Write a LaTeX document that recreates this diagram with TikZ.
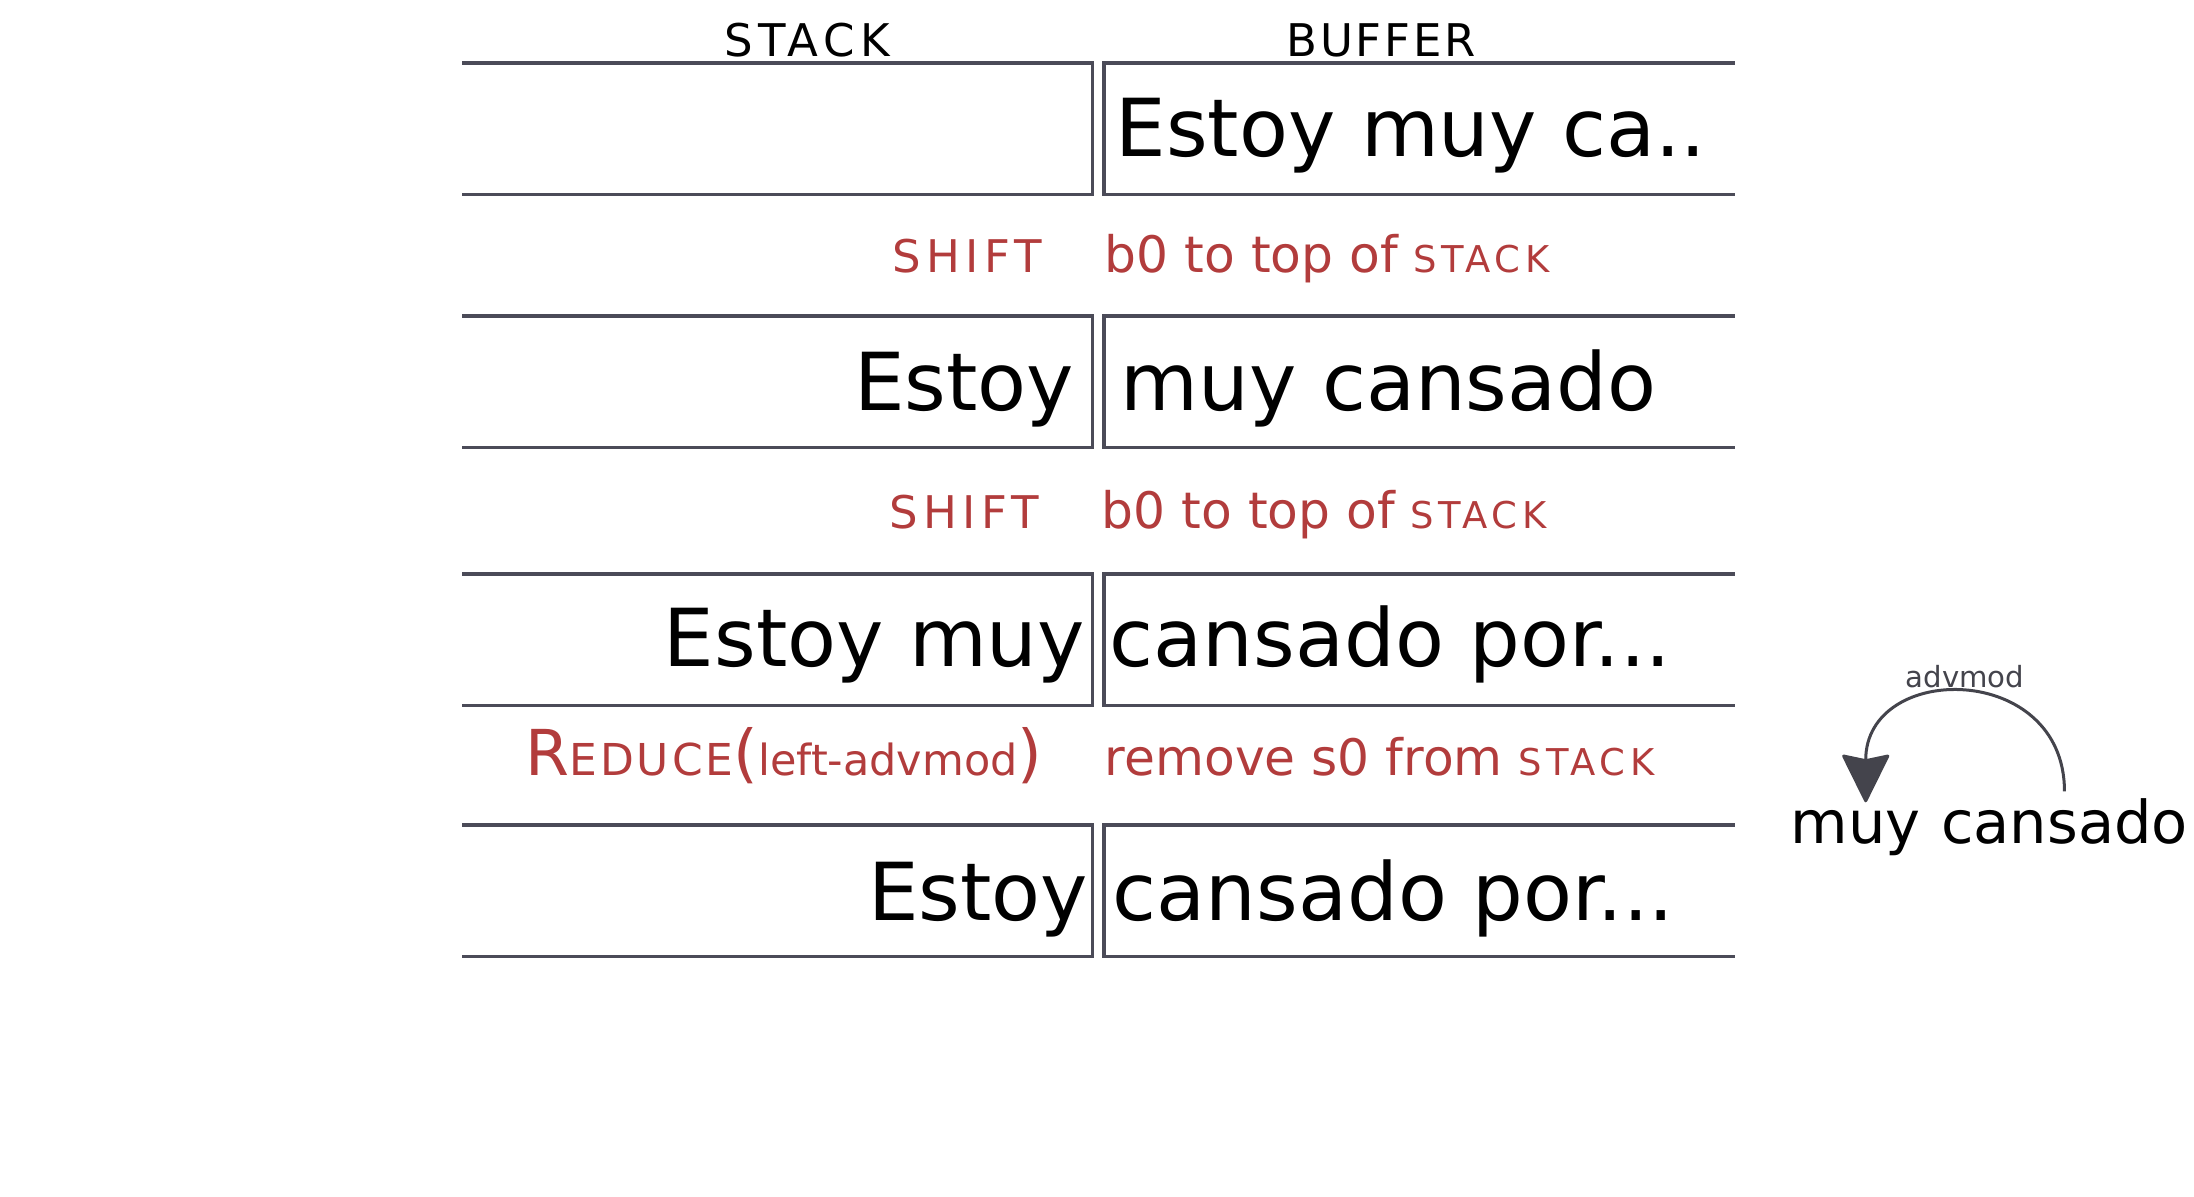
\documentclass[tikz,border=0pt]{standalone}
\usepackage{fontspec}
\setmainfont{DejaVu Sans}
\newfontfamily\spacedcaps[LetterSpace=12]{DejaVu Sans}
\usepackage{tikz}
\usetikzlibrary{shapes,arrows.meta,positioning}
\definecolor{rulegray}{RGB}{75,75,88}
\definecolor{actred}{RGB}{178,60,60}
\definecolor{arcgray}{RGB}{68,68,76}
\newcommand{\scword}[1]{{\fontsize{10.5}{12}\spacedcaps #1}}

\begin{document}
\begin{tikzpicture}[x=0.01cm, y=-0.01cm]
	\tikzstyle{stackbox} = [rectangle, inner sep=0, minimum width=6.29cm, minimum height=1.3cm, anchor=north west]
	\tikzstyle{bufferbox} = [rectangle, inner sep=0, minimum width=6.29cm, minimum height=1.3cm, anchor=north west]
	\tikzstyle{rule} = [draw=rulegray, line width=0.034cm, line join=miter]
	\tikzstyle{bigword} = [inner sep=0, font=\fontsize{22.75}{26}\selectfont]
	\tikzstyle{header} = [inner sep=0, anchor=base, font=\fontsize{12.8}{15}\spacedcaps]
	\tikzstyle{action} = [inner sep=0, anchor=base east, text=actred, font=\fontsize{12.8}{15}\spacedcaps]
	\tikzstyle{reason} = [inner sep=0, anchor=base west, text=actred, font=\fontsize{14.3}{16}\selectfont]
	\tikzstyle{word} = [inner sep=0, text height=0.4cm, font=\fontsize{16.8}{19}\selectfont]
	\tikzstyle{line} = [draw=arcgray, line width=0.03cm, -{Stealth[length=0.5cm, width=0.49cm, inset=0.05cm, round]}]
	\useasboundingbox (0,0) rectangle (2194,1196);
	% Place nodes
	\node [header] (stackhead) at (807,56) {STACK};
	\node [header] (bufferhead) at (1381,56) {\addfontfeature{LetterSpace=6}BUFFER};
	\node [stackbox] (s1) at (462,63) {};
	\node [bufferbox] (b1) at (1104,63) {};
	\node [stackbox] (s2) at (462,316) {};
	\node [bufferbox] (b2) at (1104,316) {};
	\node [stackbox] (s3) at (462,574) {};
	\node [bufferbox] (b3) at (1104,574) {};
	\node [stackbox] (s4) at (462,825) {};
	\node [bufferbox] (b4) at (1104,825) {};
	\node [bigword, anchor=base west] (bt1) at ([xshift=0.11cm, yshift=-0.28cm]b1.west) {Estoy muy ca..};
	\node [bigword, anchor=base east] (st2) at ([xshift=-0.18cm, yshift=-0.29cm]s2.east) {Estoy};
	\node [bigword, anchor=base west] (bt2) at ([xshift=0.16cm, yshift=-0.29cm]b2.west) {muy cansado};
	\node [bigword, anchor=base east] (st3) at ([xshift=-0.07cm, yshift=-0.27cm]s3.east) {Estoy muy};
	\node [bigword, anchor=base west] (bt3) at ([xshift=0.05cm, yshift=-0.27cm]b3.west) {cansado por...};
	\node [bigword, anchor=base east] (st4) at ([xshift=-0.04cm, yshift=-0.3cm]s4.east) {Estoy};
	\node [bigword, anchor=base west] (bt4) at ([xshift=0.08cm, yshift=-0.3cm]b4.west) {cansado por...};
	\node [action] (act1) at (1043,272) {SHIFT};
	\node [reason] (why1) at (1104,272) {b0 to top of \scword{STACK}};
	\node [action] (act2) at (1040,528) {SHIFT};
	\node [reason] (why2) at (1101,528) {b0 to top of \scword{STACK}};
	\node [action] (act3) at (1043,775) {{\fontsize{18}{20}\selectfont R}{\fontsize{12.5}{14}\selectfont\addfontfeature{LetterSpace=7}EDUCE}{\fontsize{18}{20}\setmainfont{DejaVu Sans}\normalfont(}{\fontsize{12.2}{14}\setmainfont{DejaVu Sans}\normalfont left-advmod}{\fontsize{18}{20}\setmainfont{DejaVu Sans}\normalfont)}};
	\node [reason] (why3) at (1104,775) {remove s0 from \scword{STACK}};
	\node [word, anchor=base west] (muy) at (1790,843) {muy};
	\node [word, base right=0.19cm of muy] (cansado) {cansado};
	% Draw edges
	\path [rule] (s1.north west) -- (s1.north east) -- (s1.south east) -- (s1.south west);
	\path [rule] (b1.north east) -- (b1.north west) -- (b1.south west) -- (b1.south east);
	\path [rule] (s2.north west) -- (s2.north east) -- (s2.south east) -- (s2.south west);
	\path [rule] (b2.north east) -- (b2.north west) -- (b2.south west) -- (b2.south east);
	\path [rule] (s3.north west) -- (s3.north east) -- (s3.south east) -- (s3.south west);
	\path [rule] (b3.north east) -- (b3.north west) -- (b3.south west) -- (b3.south east);
	\path [rule] (s4.north west) -- (s4.north east) -- (s4.south east) -- (s4.south west);
	\path [rule] (b4.north east) -- (b4.north west) -- (b4.south west) -- (b4.south east);
	\path [line] ([yshift=0.11cm]cansado.north) .. controls +(0,-130) and +(0,-141) .. ([xshift=0.1cm]muy.north)
		node [pos=0.5, above=0.06cm, inner sep=0, text=arcgray, font=\fontsize{8.3}{10}\selectfont] (rel) {advmod};
\end{tikzpicture}
\end{document}
